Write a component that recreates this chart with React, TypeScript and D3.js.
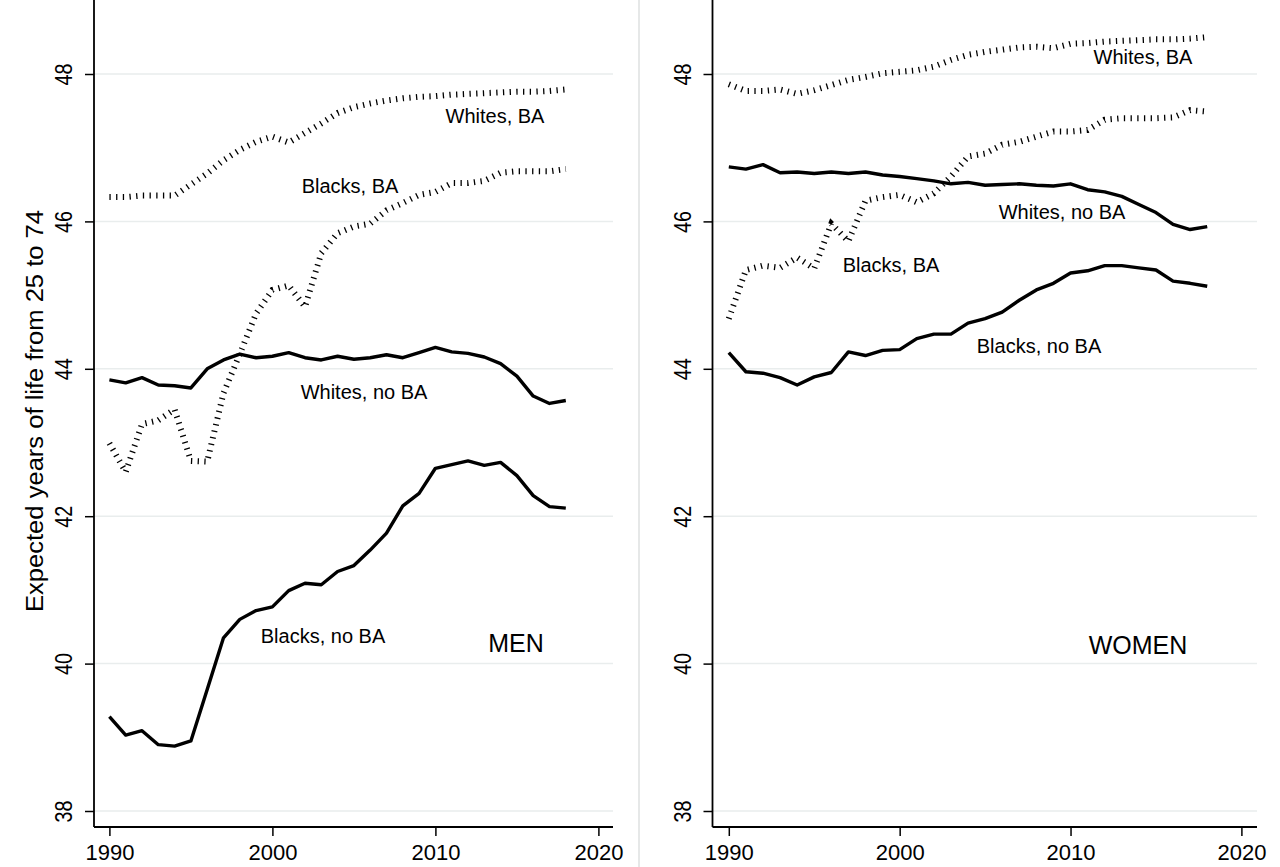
import { useRef, useEffect } from 'react';
import * as d3 from 'd3';

// years 1990-2018
const years = [
  1990, 1991, 1992, 1993, 1994, 1995, 1996, 1997, 1998, 1999,
  2000, 2001, 2002, 2003, 2004, 2005, 2006, 2007, 2008, 2009,
  2010, 2011, 2012, 2013, 2014, 2015, 2016, 2017, 2018,
];

const menWhitesBA = [46.33, 46.33, 46.35, 46.35, 46.35, 46.5, 46.65, 46.83, 46.97, 47.08, 47.15, 47.07, 47.2, 47.33, 47.47, 47.55, 47.6, 47.64, 47.67, 47.69, 47.7, 47.72, 47.73, 47.74, 47.75, 47.76, 47.76, 47.77, 47.79];
const menBlacksBA = [42.99, 42.6, 43.25, 43.3, 43.45, 42.75, 42.74, 43.67, 44.2, 44.75, 45.07, 45.13, 44.84, 45.57, 45.84, 45.93, 45.97, 46.15, 46.25, 46.36, 46.4, 46.52, 46.52, 46.55, 46.66, 46.68, 46.68, 46.68, 46.71];
const menWhitesNoBA = [43.85, 43.81, 43.88, 43.78, 43.77, 43.74, 44.0, 44.12, 44.2, 44.15, 44.17, 44.22, 44.15, 44.12, 44.17, 44.13, 44.15, 44.19, 44.15, 44.22, 44.29, 44.23, 44.21, 44.16, 44.07, 43.9, 43.63, 43.53, 43.57];
const menBlacksNoBA = [39.28, 39.03, 39.09, 38.9, 38.88, 38.95, 39.65, 40.35, 40.6, 40.72, 40.77, 40.99, 41.09, 41.07, 41.25, 41.33, 41.54, 41.77, 42.14, 42.31, 42.65, 42.7, 42.75, 42.69, 42.73, 42.55, 42.28, 42.13, 42.11];

const womenWhitesBA = [47.86, 47.77, 47.77, 47.79, 47.73, 47.78, 47.85, 47.92, 47.96, 48.01, 48.03, 48.05, 48.1, 48.19, 48.26, 48.3, 48.33, 48.36, 48.37, 48.35, 48.41, 48.42, 48.44, 48.45, 48.46, 48.47, 48.47, 48.48, 48.5];
const womenBlacksBA = [44.68, 45.34, 45.4, 45.37, 45.51, 45.36, 45.97, 45.73, 46.28, 46.33, 46.36, 46.26, 46.38, 46.61, 46.88, 46.92, 47.04, 47.08, 47.15, 47.22, 47.22, 47.24, 47.38, 47.4, 47.4, 47.4, 47.41, 47.51, 47.49];
const womenWhitesNoBA = [46.74, 46.71, 46.77, 46.66, 46.67, 46.65, 46.67, 46.65, 46.67, 46.63, 46.61, 46.58, 46.55, 46.51, 46.53, 46.49, 46.5, 46.51, 46.49, 46.48, 46.51, 46.43, 46.4, 46.34, 46.23, 46.12, 45.96, 45.89, 45.93];
const womenBlacksNoBA = [44.22, 43.96, 43.94, 43.88, 43.78, 43.89, 43.95, 44.23, 44.18, 44.25, 44.26, 44.41, 44.47, 44.47, 44.62, 44.68, 44.77, 44.93, 45.07, 45.16, 45.3, 45.33, 45.4, 45.4, 45.37, 45.34, 45.19, 45.16, 45.12];

const xTicks = [1990, 2000, 2010, 2020];
const yTicks = [38, 40, 42, 44, 46, 48];
const yTitle = 'Expected years of life from 25 to 74';

const FONT = '"Liberation Sans", Arial, Helvetica, sans-serif';

const panels = [
  {
    name: 'MEN',
    x0: 109.4, x1: 598.4, axisL: 94, axisR: 613,
    nameAt: [516, 652],
    series: [
      { label: 'Whites, BA', values: menWhitesBA, dashed: true, at: [495, 123] },
      { label: 'Blacks, BA', values: menBlacksBA, dashed: true, at: [350, 193] },
      { label: 'Whites, no BA', values: menWhitesNoBA, dashed: false, at: [364, 399] },
      { label: 'Blacks, no BA', values: menBlacksNoBA, dashed: false, at: [323, 643] },
    ],
  },
  {
    name: 'WOMEN',
    x0: 728.8, x1: 1241.4, axisL: 712.5, axisR: 1257,
    nameAt: [1138, 654],
    series: [
      { label: 'Whites, BA', values: womenWhitesBA, dashed: true, at: [1143, 64] },
      { label: 'Blacks, BA', values: womenBlacksBA, dashed: true, at: [891, 272] },
      { label: 'Whites, no BA', values: womenWhitesNoBA, dashed: false, at: [1062, 219] },
      { label: 'Blacks, no BA', values: womenBlacksNoBA, dashed: false, at: [1039, 353] },
    ],
  },
];

const App = () => {
  const ref = useRef<SVGSVGElement>(null);

  useEffect(() => {
    const width = 1280;
    const height = 867;
    const axisY = 827;

    const svg = d3.select(ref.current);
    svg.selectAll('*').remove();
    svg.attr('viewBox', [0, 0, width, height]).attr('width', width).attr('height', height);

    svg.append('rect').attr('width', width).attr('height', height).attr('fill', '#fff');

    // light border between the two graphs
    svg.append('line')
      .attr('x1', 639).attr('x2', 639).attr('y1', 0).attr('y2', height)
      .attr('stroke', '#e6e8e8').attr('stroke-width', 2);

    const y = d3.scaleLinear().domain([38, 48]).range([811, 74]);

    panels.forEach((p) => {
      const x = d3.scaleLinear().domain([1990, 2020]).range([p.x0, p.x1]);
      const g = svg.append('g');

      // gridlines
      g.selectAll('.grid')
        .data(yTicks)
        .enter().append('line')
        .attr('x1', p.axisL).attr('x2', p.axisR)
        .attr('y1', (d) => y(d)).attr('y2', (d) => y(d))
        .attr('stroke', '#e9eded').attr('stroke-width', 1.5);

      // y axis
      const ya = g.append('g')
        .attr('transform', `translate(${p.axisL},0)`)
        .call(d3.axisLeft(y).tickValues(yTicks).tickSize(9).tickFormat(d3.format('d')));
      ya.select('.domain').remove();
      ya.selectAll('.tick line').attr('stroke', '#000').attr('stroke-width', 1.5);
      ya.selectAll('.tick text')
        .attr('transform', 'rotate(-90)')
        .attr('x', 0).attr('y', -22).attr('dy', 0)
        .attr('text-anchor', 'middle')
        .attr('textLength', 22)
        .attr('lengthAdjust', 'spacingAndGlyphs')
        .attr('fill', '#000')
        .style('font-family', FONT).style('font-size', '23px');

      // x axis
      const xa = g.append('g')
        .attr('transform', `translate(0,${axisY})`)
        .call(d3.axisBottom(x).tickValues(xTicks).tickSize(9).tickPadding(8).tickFormat(d3.format('d')));
      xa.select('.domain').remove();
      xa.selectAll('.tick line').attr('stroke', '#000').attr('stroke-width', 1.5);
      xa.selectAll('.tick text')
        .attr('fill', '#000')
        .style('font-family', FONT).style('font-size', '22px');

      // axis lines
      g.append('line')
        .attr('x1', p.axisL).attr('x2', p.axisL).attr('y1', 0).attr('y2', axisY)
        .attr('stroke', '#000').attr('stroke-width', 1.8);
      g.append('line')
        .attr('x1', p.axisL).attr('x2', p.axisR).attr('y1', axisY).attr('y2', axisY)
        .attr('stroke', '#000').attr('stroke-width', 1.8);

      const line = d3.line<number>()
        .x((_, i) => x(years[i]))
        .y((d) => y(d));

      p.series.forEach((s) => {
        const path = g.append('path')
          .attr('d', line(s.values))
          .attr('fill', 'none')
          .attr('stroke', '#000');
        if (s.dashed) {
          path.attr('stroke-width', 6)
            .attr('stroke-dasharray', '1.3 5.4')
            .attr('stroke-linecap', 'butt');
        } else {
          path.attr('stroke-width', 3.4)
            .attr('stroke-linejoin', 'round');
        }
        g.append('text')
          .attr('x', s.at[0]).attr('y', s.at[1])
          .attr('text-anchor', 'middle')
          .style('font-family', FONT).style('font-size', '20px')
          .text(s.label);
      });

      g.append('text')
        .attr('x', p.nameAt[0]).attr('y', p.nameAt[1])
        .attr('text-anchor', 'middle')
        .style('font-family', FONT).style('font-size', '25px')
        .text(p.name);
    });

    // y axis title
    svg.append('text')
      .attr('transform', 'translate(43,411) rotate(-90)')
      .attr('text-anchor', 'middle')
      .attr('textLength', 402)
      .attr('lengthAdjust', 'spacingAndGlyphs')
      .style('font-family', FONT).style('font-size', '23px')
      .text(yTitle);
  }, []);

  return (
    <div style={{ position: 'absolute', left: 0, top: 0 }}>
      <svg ref={ref} style={{ display: 'block' }}></svg>
    </div>
  );
};

export default App;
